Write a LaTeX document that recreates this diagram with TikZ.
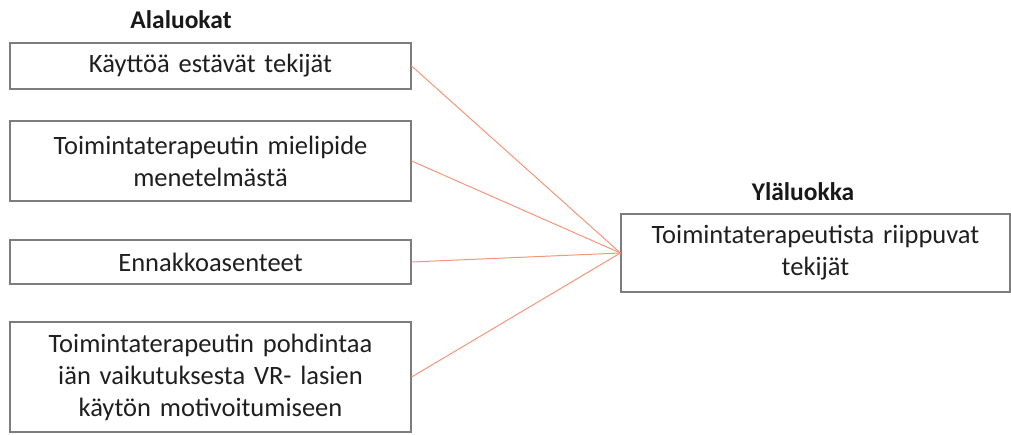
\documentclass[tikz,border=0pt]{standalone}
\usepackage{fontspec}
\setmainfont{Carlito}
\usetikzlibrary{positioning}
\definecolor{linkred}{RGB}{244,150,122}
\definecolor{boxgray}{RGB}{125,125,125}

\begin{document}
\begin{tikzpicture}[
    x=1pt,y=-1pt,
    cat/.style={
      draw=boxgray,
      line width=1.2pt,
      text width=395pt,
      align=center,
      inner sep=0pt,
      text=black!88,
      font=\fontsize{26.5}{32}\selectfont
    },
    head/.style={
      text=black!90,
      font=\fontsize{25.5}{28}\selectfont\bfseries
    },
    link/.style={
      draw=linkred,
      line width=1pt
    }]

    \useasboundingbox (0,0) rectangle (1011,434);

    % The sub categories on the left.
    \node[cat,minimum width=401pt,minimum height=46pt] at (210.5,66) (c1)
      {Käyttöä estävät tekijät};
    \node[cat,minimum width=401pt,minimum height=80pt] at (210.5,161) (c2)
      {Toimintaterapeutin mielipide\\menetelmästä};
    \node[cat,minimum width=401pt,minimum height=44pt] at (210.5,262) (c3)
      {Ennakkoasenteet};
    \node[cat,minimum width=401pt,minimum height=110pt] at (210.5,377) (c4)
      {Toimintaterapeutin pohdintaa\\iän vaikutuksesta VR- lasien\\käytön motivoitumiseen};

    % .. and label them.
    \node[head] at (181,20) (sub) {Alaluokat};

    % The upper category on the right.
    \node[cat,text width=380pt,minimum width=389pt,minimum height=78pt]
      at (815.5,253) (top) {Toimintaterapeutista riippuvat\\tekijät};
    \node[head] at (803,192) (sup) {Yläluokka};

    % Link every sub category to the upper one.
    \foreach \c in {1,2,3,4} {
      \draw[link] (c\c.east) -- (top.west);
    };
  \end{tikzpicture}
\end{document}
